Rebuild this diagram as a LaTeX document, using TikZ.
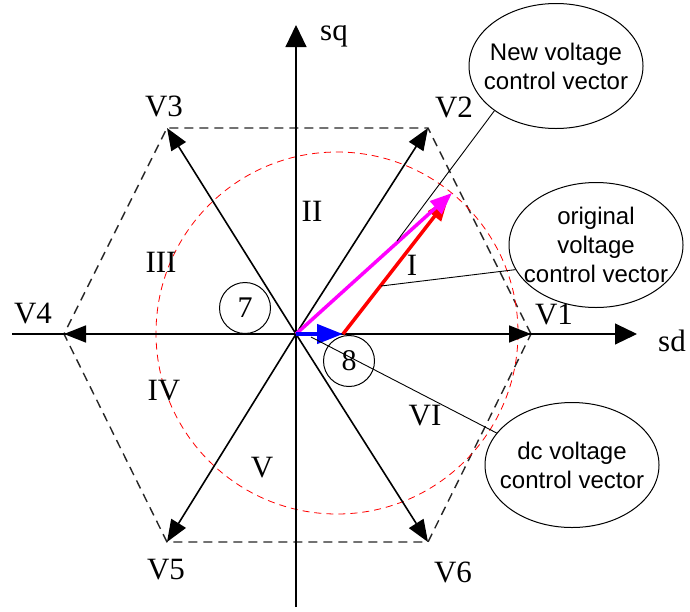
\documentclass[tikz,border=0pt]{standalone}
\usepackage{fontspec}
\setmainfont{Liberation Serif}
\newfontfamily\calloutfont{Liberation Sans}
\usetikzlibrary{arrows.meta,shapes.geometric}
\definecolor{newcol}{RGB}{255,0,255}
\definecolor{origcol}{RGB}{255,0,0}
\definecolor{dccol}{RGB}{0,0,255}
\begin{document}
\begin{tikzpicture}[x=1pt, y=-1pt, >={Triangle[length=22pt,width=17pt]},
  axis/.style={line width=1.1pt, -{Triangle[length=22pt,width=21pt]}},
  vec/.style={line width=1.6pt, ->},
  hexa/.style={line width=1.4pt, black!85, dash pattern=on 9pt off 6pt},
  lbl/.style={font=\fontsize{31}{31}\selectfont, inner sep=0pt},
  num/.style={draw, circle, line width=1pt, minimum size=51pt, inner sep=0pt, font=\fontsize{30}{30}\selectfont},
  callout/.style={draw, ellipse, fill=white, line width=1pt, minimum width=174pt, minimum height=125pt, inner sep=0pt},
  callouttext/.style={align=center, inner sep=0pt, font=\calloutfont\fontsize{24}{29}\selectfont},
  leader/.style={line width=0.9pt}]
  \useasboundingbox (0,0) rectangle (690,611);
  % origin and hexagon corners
  \coordinate (O) at (296,334);
  \coordinate (v1) at (531,334);
  \coordinate (v2) at (428,128);
  \coordinate (v3) at (167,128);
  \coordinate (v4) at (64,334);
  \coordinate (v5) at (167,542);
  \coordinate (v6) at (428,542);
  \coordinate (dctip) at (343,334);
  \coordinate (origtip) at (448,199);
  \coordinate (newtip) at (452,193);
  \draw[hexa] (v1) -- (v2) -- (v3) -- (v4) -- (v5) -- (v6) -- cycle;
  \draw[origcol, line width=0.8pt, dash pattern=on 7pt off 5pt] (337,333) circle (181);
  % axes
  \draw[axis] (12,334) -- (637,334);
  \draw[axis] (296,607) -- (296,25);
  \node[lbl] (lsd) at (672,341) {sd};
  \node[lbl] (lsq) at (334,36) {sq};
  % basic vectors
  \draw[vec] (O) -- (v1);
  \draw[vec] (O) -- (v2);
  \draw[vec] (O) -- (v3);
  \draw[vec] (O) -- (v4);
  \draw[vec] (O) -- (v5);
  \draw[vec] (O) -- (v6);
  \node[lbl] (lv1) at (554,314) {V1};
  \node[lbl] (lv2) at (454,107) {V2};
  \node[lbl] (lv3) at (164,106) {V3};
  \node[lbl] (lv4) at (33,314) {V4};
  \node[lbl] (lv5) at (166,570) {V5};
  \node[lbl] (lv6) at (453,572) {V6};
  % sectors
  \node[lbl] (s1) at (412,265) {I};
  \node[lbl] (s2) at (312,211) {II};
  \node[lbl] (s3) at (161,262) {III};
  \node[lbl] (s4) at (164,391) {IV};
  \node[lbl] (s5) at (262,468) {V};
  \node[lbl] (s6) at (425,416) {VI};
  \node[num] (c7) at (245,308) {7};
  \node[num] (c8) at (349,361) {8};
  % control vectors
  \draw[origcol, line width=3.5pt, -{Triangle[length=22pt,width=16pt]}] (dctip) -- (origtip);
  \draw[newcol, line width=3.5pt, -{Triangle[length=22pt,width=17pt]}] (O) -- (newtip);
  \draw[dccol, line width=4.5pt, -{Triangle[length=26pt,width=19pt]}] (O) -- (dctip);
  % callouts
  \coordinate (pnew) at (397,241);
  \coordinate (porig) at (381,286);
  \coordinate (pdc) at (311,337);
  \node[callout] (newvec) at (556,66) {};
  \node[callout] (origvec) at (596,245) {};
  \node[callout] (dcvec) at (572,465) {};
  \node[callouttext] (newtxt) at (newvec) {New voltage\\control vector};
  \node[callouttext] (origtxt) at (origvec) {original\\voltage\\control vector};
  \node[callouttext] (dctxt) at (dcvec) {dc voltage\\control vector};
  \draw[leader] (newvec.216) -- (pnew);
  \draw[leader] (origvec.197) -- (porig);
  \draw[leader] (dcvec.157) -- (pdc);
\end{tikzpicture}
\end{document}
